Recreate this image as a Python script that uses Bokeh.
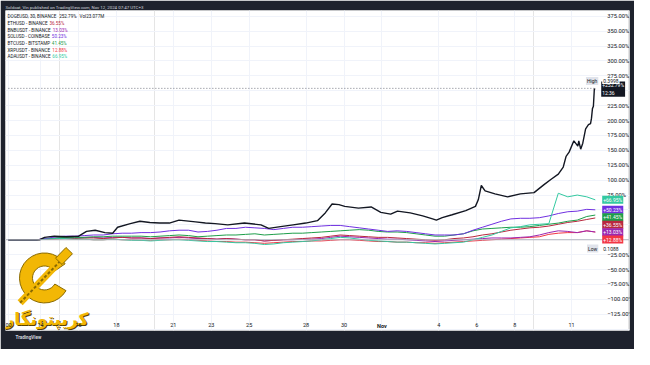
from bokeh.plotting import figure
from bokeh.models import Range1d, FixedTicker, LinearAxis, Grid, Span, Label, Title
from bokeh.core.properties import value
from bokeh.embed import file_html
from bokeh.resources import INLINE

# ---------------- data (percent change vs. first visible bar) ----------------
# time axis: day number counted from 1 Oct 2024 (1 Nov = 32)
days = [12.3, 12.8, 13.3, 13.8, 14.3, 14.8, 15.3, 15.8, 16.3, 16.8, 17.3, 17.8,
        18.3, 18.8, 19.3, 19.8, 20.3, 20.8, 21.3, 21.8, 22.3, 22.8, 23.3, 23.8,
        24.3, 24.8, 25.3, 25.8, 26.3, 26.8, 27.3, 27.8, 28.3, 28.8, 29.3, 29.8,
        30.3, 30.8, 31.3, 31.8, 32.3, 32.8, 33.3, 33.8, 34.3, 34.8, 35.3, 35.8,
        36.3, 36.8, 37.3, 37.8, 38.3, 38.8, 39.3, 39.8, 40.3, 40.8, 41.3, 41.8,
        42.3, 42.8, 43.25]

eth_pct = [0, 0, 0, 0, 1, 2, 3, 2, 3, 3, 2, 3, 4, 3, 3, 2, 3, 4, 5, 4, 3, 2, 1, 2,
           1, 0, 0, -2, -1, 0, 1, 2, 3, 4, 6, 8, 7, 6, 5, 4, 4, 3, 2, 1, 0, -1, 0, 2,
           3, 5, 8, 10, 13, 16, 18, 20, 21, 23, 26, 29, 31, 34, 36.55]
bnb_pct = [0, 0, 0, 0, 2, 3, 4, 3, 4, 4, 3, 4, 4, 3, 3, 2, 3, 3, 4, 3, 2, 2, 1, 2,
           1, 0, 0, -2, -1, 0, 0, 1, 1, 2, 4, 6, 5, 4, 3, 2, 1, 1, 0, -1, -2, -3, -2, -1,
           0, 1, 2, 3, 3, 3, 4, 5, 8, 12, 15, 14, 12, 15, 13.03]
sol_pct = [0, 0, 0, 0, 2, 5, 6, 6, 7, 8, 8, 10, 11, 11, 12, 12, 13, 15, 16, 16, 13, 14, 16, 19,
           19, 21, 20, 19, 17, 19, 21, 21, 22, 23, 24, 24, 22, 20, 18, 16, 14, 15, 14, 12, 10, 8, 8, 8,
           10, 16, 21, 26, 31, 35, 36, 36, 37, 40, 44, 47, 48, 51, 50.23]
btc_pct = [0, 0, 0, 0, 1, 3, 4, 4, 4, 5, 5, 6, 6, 6, 6, 5, 6, 7, 8, 7, 5, 6, 7, 8,
           8, 9, 10, 8, 9, 10, 11, 11, 12, 13, 14, 15, 16, 17, 16, 14, 13, 13, 12, 10, 8, 6, 6, 8,
           10, 15, 18, 19, 20, 21, 21, 22, 24, 26, 28, 31, 33, 39, 41.45]
xrp_pct = [0, 0, 0, 0, 1, 1, 2, 1, 1, 0, 0, 1, 0, 0, -1, -1, 0, 0, 1, 0, -1, -2, -3, -3,
           -4, -4, -5, -6, -5, -4, -3, -3, -2, -2, -1, 0, 0, -1, -2, -3, -3, -4, -4, -5, -5, -6, -5, -4,
           -3, -2, -1, 0, 1, 2, 3, 4, 5, 9, 11, 12, 12, 15, 12.88]
ada_pct = [0, 0, 0, 0, 1, 2, 2, 1, 1, 0, 0, 1, 0, -1, -1, -2, -1, 0, 0, -1, -2, -3, -3, -4,
           -5, -5, -6, -8, -7, -5, -4, -3, -2, 0, 2, 4, 3, 1, -1, -2, -3, -4, -4, -5, -6, -7, -6, -5,
           -4, 0, 4, 8, 14, 20, 22, 25, 26, 27, 78, 72, 75, 72, 66.95]

doge_days = [12.30, 12.92, 13.95, 14.21, 14.72, 15.34, 16.01, 16.42, 16.88, 17.39,
             17.80, 18.06, 18.73, 19.24, 19.76, 20.27, 20.79, 21.30, 22.17, 22.69,
             23.20, 23.87, 24.75, 25.62, 26.03, 26.65, 27.32, 27.98, 28.60, 29.01,
             29.37, 29.73, 30.04, 30.76, 31.43, 31.94, 32.46, 32.82, 33.49, 34.15,
             34.67, 34.87, 35.18, 35.70, 36.42, 36.93, 37.08, 37.24, 37.44, 37.96,
             38.63, 39.30, 40.02, 40.53, 40.94, 41.30, 41.56, 41.71, 41.87, 42.12,
             42.33, 42.38, 42.48, 42.59, 42.74, 42.89, 43.00, 43.05, 43.10, 43.15,
             43.20, 43.25]
doge_pct = [0, 0, 0, 4, 6, 5, 6, 14, 16, 12,
            11, 21, 27, 31, 29, 28, 28, 33, 30, 28,
            27, 25, 28, 25, 19, 22, 25, 28, 32, 45,
            60, 59, 56, 53, 55, 46, 43, 48, 45, 40,
            35, 33, 37, 42, 49, 56, 67, 91, 82, 77,
            72, 77, 79, 92, 102, 110, 122, 140, 147, 166,
            157, 166, 152, 162, 186, 193, 195, 204, 220, 224,
            253, 252.79]
doge_high_pct = 254.0
doge_low_pct = -3.7
doge_high_price = "0.3998"
doge_low_price = "0.1088"
doge_countdown = "12:36"
doge_title = "DOGEUSD, 30, BINANCE"
doge_volume = "Vol23.077M"

series_names = ["ETHUSD - BINANCE", "BNBUSDT - BINANCE", "SOLUSD - COINBASE",
                "BTCUSD - BITSTAMP", "XRPUSDT - BINANCE", "ADAUSDT - BINANCE"]
series_values = [eth_pct, bnb_pct, sol_pct, btc_pct, xrp_pct, ada_pct]

x_tick_days = [12.31, 14, 16, 18, 21, 23, 25, 28, 30, 35, 37, 39, 42]
x_tick_labels = ["00", "14", "16", "18", "21", "23", "25", "28", "30", "4", "6", "8", "11"]
month_tick_days = [32]
month_tick_labels = ["Nov"]
y_tick_values = [375, 350, 325, 300, 275, 225, 200, 175, 150, 125, 100, 75,
                 -25, -50, -75, -100, -125]
grid_pct = [-150, -125, -100, -75, -50, -25, 0, 25, 50, 75, 100, 125, 150, 175,
            200, 225, 250, 275, 300, 325, 350, 375]

watermark_text = "کریپتونگار"
title_text = "Soldoat_Vin published on TradingView.com, Nov 12, 2024 07:47 UTC+3"

# ---------------- styles ----------------
DARK = "#1e222d"
INK = "#131722"
GRIDC = "#f0f3fa"
series_colors = ["#b8283f", "#9c27b0", "#7030e0", "#1e9e4a", "#f23645", "#33c9a0"]
GOLD = "#f2b705"
FONT = "Roboto"
LEG_FS = "4.6px"
BOX_FS = "5px"


# layout helpers: reference-pixel position -> data coordinates (placement only)
def X(px):
    return 14 + (px - 41) / 19.45


def Y(py):
    return (250 - py) * 1.6026


p = figure(width=634, height=349, output_backend="svg", toolbar_location=None,
           x_range=Range1d(X(5), X(645)), y_range=Range1d(Y(345), Y(10)),
           x_axis_location=None, y_axis_location=None,
           min_border_left=5, min_border_right=5, min_border_top=10, min_border_bottom=19,
           background_fill_color="white", border_fill_color=DARK, outline_line_color=None)

p.title.text = title_text
p.title.text_font = FONT
p.title.text_font_size = "4.4px"
p.title.text_font_style = "normal"
p.title.text_color = "#d1d4dc"
p.title.align = "left"
p.title.offset = 0
p.title.standoff = 2

p.add_layout(Title(text="TradingView", align="left", offset=10, text_font=FONT,
                   text_font_size="4.6px", text_font_style="bold", text_color="#d1d4dc",
                   standoff=4), "below")

p.add_layout(Grid(dimension=0, ticker=FixedTicker(ticks=x_tick_days + month_tick_days),
                  grid_line_color=GRIDC, grid_line_width=1))
p.add_layout(Grid(dimension=1, ticker=FixedTicker(ticks=grid_pct),
                  grid_line_color=GRIDC, grid_line_width=1))

# price-scale (right) axis drawn inside the white pane
yax = LinearAxis(fixed_location=X(614), ticker=FixedTicker(ticks=y_tick_values),
                 major_label_overrides={v: (f"{v:.2f}%").replace("-", "\u2212") for v in y_tick_values},
                 axis_line_color=None, major_tick_line_color=None, minor_tick_line_color=None,
                 major_label_standoff=2, major_label_text_font_size="5.8px",
                 major_label_text_color=INK, major_label_text_font=FONT)
p.add_layout(yax, "right")

xax = LinearAxis(fixed_location=Y(331), ticker=FixedTicker(ticks=x_tick_days),
                 major_label_overrides=dict(zip(x_tick_days, x_tick_labels)),
                 axis_line_color=None, major_tick_line_color=None, minor_tick_line_color=None,
                 major_label_standoff=0, major_label_text_font_size="5.5px",
                 major_label_text_color=INK, major_label_text_font=FONT)
p.add_layout(xax, "below")
max_ = LinearAxis(fixed_location=Y(331), ticker=FixedTicker(ticks=month_tick_days),
                  major_label_overrides=dict(zip(month_tick_days, month_tick_labels)),
                  axis_line_color=None, major_tick_line_color=None, minor_tick_line_color=None,
                  major_label_standoff=0, major_label_text_font_size="5.5px",
                  major_label_text_font_style="bold",
                  major_label_text_color=INK, major_label_text_font=FONT)
p.add_layout(max_, "below")

# baseline
p.add_layout(Span(location=0, dimension="width", line_color="#b2b5be", line_width=1))

# series lines
order = [4, 1, 0, 3, 2, 5]
for i in order:
    p.line(days, series_values[i], line_color=series_colors[i], line_width=1)
p.line(doge_days, doge_pct, line_color=INK, line_width=1.4)

# high line
p.segment(x0=[doge_days[0]], x1=[doge_days[-1]], y0=[doge_high_pct], y1=[doge_high_pct],
          line_color="#787b86", line_width=1, line_dash="1 2")

# ---------- legend (top-left) ----------
leg_rows = [16, 23.5, 30.5, 37.5, 44.5, 51.5, 58.5]
leg_value_px = [50, 53.5, 52.5, 52.5, 53, 53]
p.add_layout(Label(x=X(7), y=Y(leg_rows[0]), text=doge_title, text_font=FONT,
                   text_font_size=LEG_FS, text_color=INK, text_baseline="middle"))
p.add_layout(Label(x=X(60), y=Y(leg_rows[0]), text=f"{doge_pct[-1]:.2f}%", text_font=FONT,
                   text_font_size=LEG_FS, text_color=INK, text_baseline="middle"))
p.add_layout(Label(x=X(81), y=Y(leg_rows[0]), text=doge_volume, text_font=FONT,
                   text_font_size=LEG_FS, text_color=INK, text_baseline="middle"))
for k, (name, vals, col) in enumerate(zip(series_names, series_values, series_colors)):
    yy = Y(leg_rows[k + 1])
    p.add_layout(Label(x=X(7), y=yy, text=name, text_font=FONT, text_font_size=LEG_FS,
                       text_color=INK, text_baseline="middle"))
    p.add_layout(Label(x=X(leg_value_px[k]), y=yy, text=f"{vals[-1]:.2f}%", text_font=FONT,
                       text_font_size=LEG_FS, text_color=col, text_baseline="middle"))

# ---------- last-value boxes on the price scale ----------
ends = sorted(zip([v[-1] for v in series_values], series_colors), key=lambda t: -t[0])
gap = 12.5
prev = None
for v, col in ends:
    pos = v if prev is None else min(v, prev - gap)
    prev = pos
    p.add_layout(Label(x=X(617), y=pos, text=f"+{v:.2f}%", text_font=FONT,
                       text_font_size=BOX_FS, text_color="white", text_baseline="middle",
                       background_fill_color=col, padding=1))

p.add_layout(Label(x=X(616), y=doge_pct[-1], text=f"+{doge_pct[-1]:.2f}%\n{doge_countdown}",
                   text_font=FONT, text_font_size=BOX_FS, text_color="white",
                   text_baseline="middle", background_fill_color=INK, padding=1))
p.add_layout(Label(x=X(613), y=doge_high_pct + 12.5, text="High", text_font=FONT,
                   text_font_size=BOX_FS, text_color=INK, text_align="right",
                   text_baseline="middle", background_fill_color="#e0e3eb", padding=1))
p.add_layout(Label(x=X(617), y=doge_high_pct + 12.5, text=doge_high_price, text_font=FONT,
                   text_font_size=BOX_FS, text_color=INK, text_baseline="middle",
                   background_fill_color="white", padding=1))
p.add_layout(Label(x=X(613), y=doge_low_pct - 11, text="Low", text_font=FONT,
                   text_font_size=BOX_FS, text_color=INK, text_align="right",
                   text_baseline="middle", background_fill_color="#e0e3eb", padding=1))
p.add_layout(Label(x=X(617), y=doge_low_pct - 11, text=doge_low_price, text_font=FONT,
                   text_font_size=BOX_FS, text_color=INK, text_baseline="middle",
                   background_fill_color="white", padding=1))

# ---------- watermark logo (bottom-left) ----------
p.annular_wedge(x=[X(45)], y=[Y(290)], inner_radius=12, outer_radius=25,
                inner_radius_units="screen", outer_radius_units="screen",
                start_angle=0.6, end_angle=5.75, direction="anticlock",
                fill_color=GOLD, line_color="#8a6a00", line_width=1)
p.line([X(20), X(68)], [Y(316), Y(265)], line_color=GOLD, line_width=7)
p.line([X(20), X(68)], [Y(316), Y(265)], line_color="#8a6a00", line_width=2, line_dash="3 2")
p.rect(x=[X(65)], y=[Y(267)], width=15, height=9, angle=0.8,
       width_units="screen", height_units="screen",
       fill_color=GOLD, line_color="#8a6a00", line_width=1)
p.text(x=[X(47)], y=[Y(333)], text=[watermark_text], text_font=value("DejaVu Sans"),
       text_font_size="17px", text_font_style="bold", text_color="#5a4300",
       text_align="center", text_baseline="middle", x_offset=1, y_offset=1)
p.text(x=[X(47)], y=[Y(333)], text=[watermark_text], text_font=value("DejaVu Sans"),
       text_font_size="17px", text_font_style="bold", text_color=GOLD,
       text_align="center", text_baseline="middle")

open("out.html", "w").write(file_html(p, INLINE))
